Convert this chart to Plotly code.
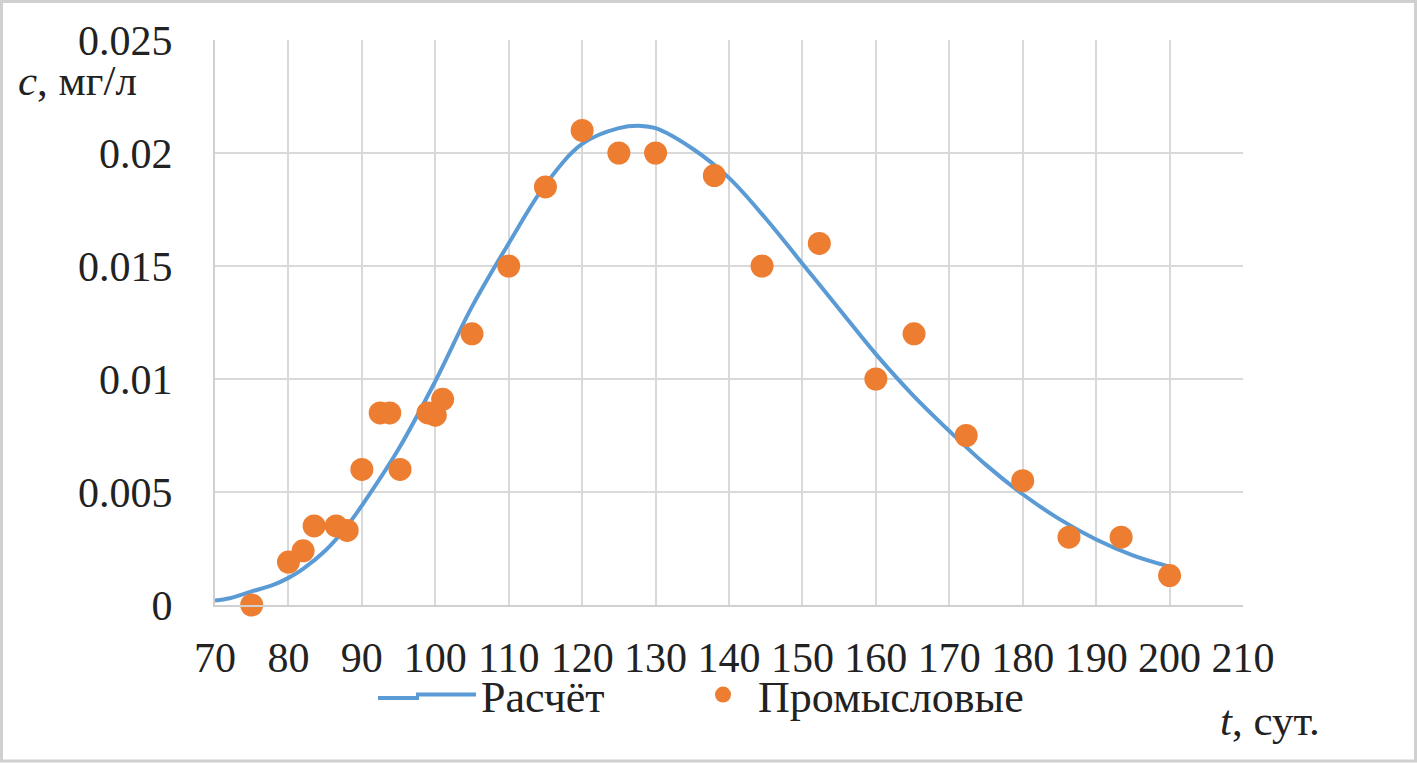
import plotly.graph_objects as go

# Calculated curve (Расчёт)
calc_t = [70, 72, 75, 78, 80, 82, 85, 88, 90, 95, 100, 105, 110, 115, 120, 125, 128, 130,
          135, 140, 145, 150, 155, 160, 165, 170, 175, 180, 185, 190, 195, 200]
calc_c = [0.0002, 0.0003, 0.0006, 0.0009, 0.0012, 0.0016, 0.0024, 0.0035, 0.0044, 0.0069,
          0.0099, 0.0132, 0.0160, 0.0186, 0.0204, 0.0211, 0.0212, 0.0211, 0.0202, 0.0189,
          0.0171, 0.0151, 0.0131, 0.0111, 0.0093, 0.0077, 0.0062, 0.0049, 0.0038, 0.0029,
          0.0022, 0.0017]

# Field data (Промысловые)
field_t = [75, 80, 82, 83.5, 86.5, 88, 90, 92.5, 93.8, 95.2, 99, 100, 101, 105, 110, 115,
           120, 125, 130, 138, 144.5, 152.3, 160, 165.2, 172.3, 180, 186.3, 193.4, 200]
field_c = [0.0, 0.0019, 0.0024, 0.0035, 0.0035, 0.0033, 0.006, 0.0085, 0.0085, 0.006,
           0.0085, 0.0084, 0.0091, 0.012, 0.015, 0.0185, 0.021, 0.020, 0.020, 0.019, 0.015,
           0.016, 0.010, 0.012, 0.0075, 0.0055, 0.003, 0.003, 0.0013]

x_ticks = list(range(70, 211, 10))
y_ticks = [0, 0.005, 0.01, 0.015, 0.02, 0.025]
y_tick_text = ["0", "0.005", "0.01", "0.015", "0.02", "0.025"]

FONT = "Liberation Serif"
TXT = "#222222"
BLUE = "#5b9bd5"
ORANGE = "#ed7d31"
W, H = 1417, 763
L, R, T, B = 215, 1417 - 1243, 40, 763 - 605
PW, PH = W - L - R, H - T - B


def px(xp):
    return (xp - L) / PW


def py(yp):
    return (H - B - yp) / PH


fig = go.Figure()
fig.add_trace(go.Scatter(
    x=calc_t, y=calc_c, mode="lines", name="Расчёт", legend="legend",
    line=dict(color=BLUE, width=4, shape="spline", smoothing=1.0),
))
fig.add_trace(go.Scatter(
    x=field_t, y=field_c, mode="markers", name="Промысловые", legend="legend2",
    marker=dict(color=ORANGE, size=23, line=dict(width=0)),
    cliponaxis=False,
))

legend_common = dict(
    orientation="h", xanchor="left", yanchor="middle", y=py(695),
    font=dict(family=FONT, size=44, color=TXT),
    bgcolor="rgba(0,0,0,0)", itemwidth=60, tracegroupgap=0,
)

fig.update_layout(
    width=W, height=H,
    margin=dict(l=L, r=R, t=T, b=B, autoexpand=False),
    paper_bgcolor="white", plot_bgcolor="white",
    font=dict(family=FONT, size=42, color=TXT),
    showlegend=True,
    legend=dict(x=px(411), **legend_common),
    legend2=dict(x=px(688), **legend_common),
    shapes=[
        dict(type="rect", xref="paper", yref="paper",
             x0=px(1.5), x1=px(1415.5), y0=py(1.5), y1=py(761),
             line=dict(color="#d0d0d0", width=3), layer="below"),
        # extends the legend's line sample to the reference's length
        dict(type="line", xref="paper", yref="paper",
             x0=px(378), x1=px(419), y0=py(698), y1=py(698),
             line=dict(color=BLUE, width=4)),
    ],
    annotations=[
        dict(text="<i>c</i>, мг/л", xref="paper", yref="paper", x=px(16), y=py(80),
             xanchor="left", yanchor="middle", showarrow=False,
             font=dict(family=FONT, size=43, color=TXT)),
        dict(text="<i>t</i>, сут.", xref="paper", yref="paper", x=px(1322), y=py(720),
             xanchor="right", yanchor="middle", showarrow=False,
             font=dict(family=FONT, size=43, color=TXT)),
    ],
)

fig.update_xaxes(
    range=[70, 210], tickvals=x_ticks, ticktext=[str(v) for v in x_ticks], tickangle=0,
    showgrid=True, gridcolor="#d9d9d9", gridwidth=2,
    showline=True, linecolor="#d0d0d0", linewidth=2, mirror=False,
    ticks="", ticklabelstandoff=15, zeroline=False, automargin=False,
    tickfont=dict(family=FONT, size=42, color=TXT),
)
fig.update_yaxes(
    range=[0, 0.025], tickvals=y_ticks, ticktext=y_tick_text,
    showgrid=True, gridcolor="#d9d9d9", gridwidth=2,
    showline=True, linecolor="#d0d0d0", linewidth=2,
    ticks="", ticklabelstandoff=32, zeroline=False, automargin=False,
    tickfont=dict(family=FONT, size=42, color=TXT),
)

fig.write_html(
    "out.html",
    config={"displayModeBar": False},
    post_script="document.body.style.margin='0';document.body.style.overflow='hidden';",
)
